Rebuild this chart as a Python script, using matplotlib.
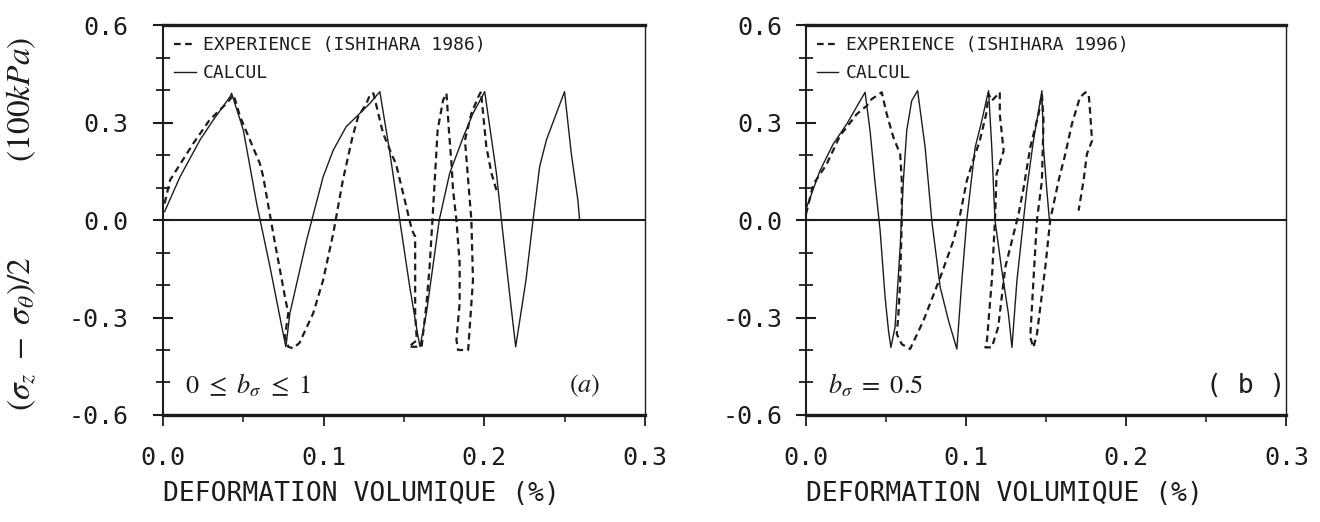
import matplotlib
matplotlib.use("Agg")
import matplotlib.pyplot as plt
from matplotlib.ticker import MultipleLocator

plt.rcParams['mathtext.fontset'] = 'stix'

# essai (a) : 0 <= b_sigma <= 1
calc_a_x = [0.001, 0.0106, 0.023, 0.0313, 0.0417, 0.0427, 0.050, 0.0583, 0.0666, 0.0748, 0.0765,
            0.079, 0.0894, 0.0997, 0.106, 0.114, 0.1225, 0.1288, 0.135, 0.141, 0.1474, 0.1536,
            0.1588, 0.160, 0.164, 0.168, 0.172, 0.1785, 0.187, 0.193, 0.198, 0.2003, 0.2076,
            0.2107, 0.216, 0.2196, 0.226, 0.2304, 0.2345, 0.2387, 0.2449, 0.250, 0.2542, 0.2583,
            0.2594]
calc_a_y = [0.026, 0.133, 0.246, 0.308, 0.379, 0.39, 0.277, 0.051, -0.144, -0.349, -0.39,
            -0.287, -0.062, 0.133, 0.215, 0.287, 0.328, 0.359, 0.395, 0.215, 0.0, -0.205,
            -0.359, -0.39, -0.287, -0.144, 0.0, 0.144, 0.256, 0.328, 0.374, 0.395, 0.144,
            0.0, -0.236, -0.39, -0.185, 0.0, 0.164, 0.246, 0.328, 0.395, 0.205, 0.062,
            0.0]

exp_a_x = [0.001, 0.0044, 0.0189, 0.029, 0.0396, 0.044, 0.048, 0.0603, 0.0624, 0.0686, 0.0759,
           0.078, 0.0759, 0.078, 0.081, 0.085, 0.0935, 0.0997, 0.106, 0.112, 0.118, 0.1215,
           0.1267, 0.1288, 0.131, 0.137, 0.143, 0.145, 0.1495, 0.155, 0.157, 0.157, 0.157,
           0.158, 0.153, 0.161, 0.164, 0.166, 0.168, 0.171, 0.1744, 0.1765, 0.178, 0.1796,
           0.1806, 0.1827, 0.1847, 0.1847, 0.1827, 0.1837, 0.189, 0.19, 0.193, 0.192, 0.19,
           0.188, 0.192, 0.1963, 0.198, 0.1993, 0.2013, 0.2045, 0.2076]
exp_a_y = [0.051, 0.123, 0.236, 0.308, 0.359, 0.385, 0.318, 0.174, 0.133, -0.041, -0.236,
           -0.287, -0.359, -0.39, -0.395, -0.378, -0.287, -0.185, -0.041, 0.123, 0.256, 0.318,
           0.359, 0.385, 0.39, 0.267, 0.195, 0.174, 0.082, -0.031, -0.051, -0.185, -0.287,
           -0.37, -0.39, -0.39, -0.26, -0.144, 0.02, 0.277, 0.369, 0.39, 0.277, 0.174,
           0.092, 0.0, -0.133, -0.256, -0.369, -0.40, -0.40, -0.40, -0.185, 0.0, 0.123,
           0.246, 0.328, 0.379, 0.395, 0.328, 0.226, 0.144, 0.092]

# essai (b) : b_sigma = 0.5
calc_b_x = [0.0004, 0.00875, 0.017, 0.0254, 0.0338, 0.0369, 0.04, 0.043, 0.0463, 0.0494, 0.0515,
            0.053, 0.0556, 0.0588, 0.0608, 0.0629, 0.066, 0.0697, 0.0744, 0.0785, 0.0838,
            0.089, 0.0942, 0.0973, 0.1004, 0.1056, 0.1098, 0.113, 0.114, 0.116, 0.118, 0.122,
            0.1264, 0.1286, 0.1317, 0.1358, 0.138, 0.142, 0.1452, 0.1473, 0.1483, 0.1504,
            0.152]
calc_b_y = [0.039, 0.152, 0.234, 0.295, 0.367, 0.393, 0.275, 0.121, -0.033, -0.238, -0.34,
            -0.392, -0.33, -0.084, 0.121, 0.275, 0.367, 0.398, 0.223, 0.0, -0.207,
            -0.31, -0.397, -0.187, 0.0, 0.223, 0.306, 0.377, 0.398, 0.223, 0.0, -0.146,
            -0.289, -0.392, -0.187, 0.0, 0.1, 0.244, 0.336, 0.398, 0.223, 0.09,
            0.0]

exp_b_x = [0.0, 0.0046, 0.0129, 0.0213, 0.0317, 0.038, 0.041, 0.0473, 0.0504, 0.0546, 0.0588,
           0.0598, 0.0598, 0.0588, 0.0577, 0.0567, 0.0598, 0.065, 0.0733, 0.0838, 0.092,
           0.0963, 0.1004, 0.1056, 0.1083, 0.1125, 0.114, 0.116, 0.121, 0.121, 0.1234, 0.119,
           0.118, 0.116, 0.113, 0.112, 0.116, 0.12, 0.1244, 0.1327, 0.1359, 0.14, 0.1452,
           0.1473, 0.1483, 0.1473, 0.1442, 0.142, 0.14, 0.142, 0.1442, 0.1494, 0.1525, 0.1577,
           0.1619, 0.166, 0.171, 0.1744, 0.1765, 0.1775, 0.1786, 0.1754, 0.1733, 0.1702]
exp_b_y = [0.018, 0.11, 0.172, 0.26, 0.326, 0.352, 0.372, 0.393, 0.326, 0.254, 0.203,
           0.121, 0.0, -0.187, -0.289, -0.351, -0.382, -0.397, -0.31, -0.177, -0.064,
           0.018, 0.121, 0.203, 0.24, 0.326, 0.388, 0.367, 0.393, 0.326, 0.213, 0.141,
           0.0, -0.187, -0.37, -0.392, -0.392, -0.33, -0.146, 0.018, 0.1, 0.223, 0.326,
           0.388, 0.306, 0.121, 0.0, -0.187, -0.361, -0.392, -0.351, -0.146, 0.0, 0.121,
           0.203, 0.295, 0.377, 0.393, 0.388, 0.326, 0.244, 0.203, 0.121, 0.029]

xticks = [0.0, 0.1, 0.2, 0.3]
yticks = [-0.6, -0.3, 0.0, 0.3, 0.6]

ink = '#1c1c1c'
mono = 'DejaVu Sans Mono'

fig = plt.figure(figsize=(13.2, 5.22), dpi=100)
ax_a = fig.add_axes([0.1235, 0.205, 0.365, 0.747])
ax_b = fig.add_axes([0.6106, 0.205, 0.364, 0.747])

panels = [
    (ax_a, calc_a_x, calc_a_y, exp_a_x, exp_a_y, '1986', r'$0\ \leq\ b_\sigma\ \leq\ 1$', r'$(a)$', 18),
    (ax_b, calc_b_x, calc_b_y, exp_b_x, exp_b_y, '1996', r'$b_\sigma\ =\ 0.5$', '( b )', 10),
]

for ax, cx, cy, ex, ey, year, cond, tag, ypad in panels:
    ax.plot(ex, ey, color=ink, lw=1.6, dashes=(3, 2),
            label='EXPERIENCE (ISHIHARA %s)' % year)
    ax.plot(cx, cy, color=ink, lw=1.0, label='CALCUL')
    ax.axhline(0, color=ink, lw=1.5)

    ax.set_xlim(0, 0.3)
    ax.set_ylim(-0.6, 0.6)
    ax.set_xticks(xticks)
    ax.set_yticks(yticks)
    ax.xaxis.set_minor_locator(MultipleLocator(0.05))
    ax.yaxis.set_minor_locator(MultipleLocator(0.1))
    ax.tick_params(axis='y', which='major', direction='inout', length=14, width=1.5,
                   pad=ypad, labelsize=18, colors=ink)
    ax.tick_params(axis='y', which='minor', direction='inout', length=10, width=1.3, colors=ink)
    ax.tick_params(axis='x', which='major', direction='out', length=8, width=1.3,
                   pad=14, labelsize=18, colors=ink)
    ax.tick_params(axis='x', which='minor', direction='out', length=5, width=1.1, colors=ink)
    ax.set_xticklabels(['%.1f' % t for t in xticks], family=mono)
    ax.set_yticklabels(['%.1f' % t for t in yticks], family=mono)

    ax.spines['top'].set_linewidth(2.4)
    ax.spines['bottom'].set_linewidth(2.4)
    ax.spines['left'].set_linewidth(1.5)
    ax.spines['right'].set_linewidth(1.0)
    for s in ax.spines.values():
        s.set_color(ink)

    ax.set_xlabel('DEFORMATION VOLUMIQUE (%)', family=mono, fontsize=19, color=ink,
                  loc='left', labelpad=8)

    ax.legend(loc='upper left', frameon=False, handlelength=1.2, handletextpad=0.4,
              labelspacing=0.55, borderaxespad=0.3, borderpad=0.3,
              prop={'family': mono, 'size': 13}, labelcolor=ink)

    ax.text(0.045, 0.075, cond, transform=ax.transAxes, fontsize=19, color=ink,
            va='center', ha='left')
    ax.text(0.875 if tag == r'$(a)$' else 0.915, 0.075, tag, transform=ax.transAxes,
            fontsize=19, color=ink, va='center', ha='center',
            family=None if tag == r'$(a)$' else mono)

ax_a.set_ylabel(r'$(\sigma_z\ -\ \sigma_\theta)/2\qquad\qquad(100kPa)$', fontsize=24, color=ink)
ax_a.yaxis.set_label_coords(-0.26, 0.49)

fig.savefig('out.png', dpi=100)
